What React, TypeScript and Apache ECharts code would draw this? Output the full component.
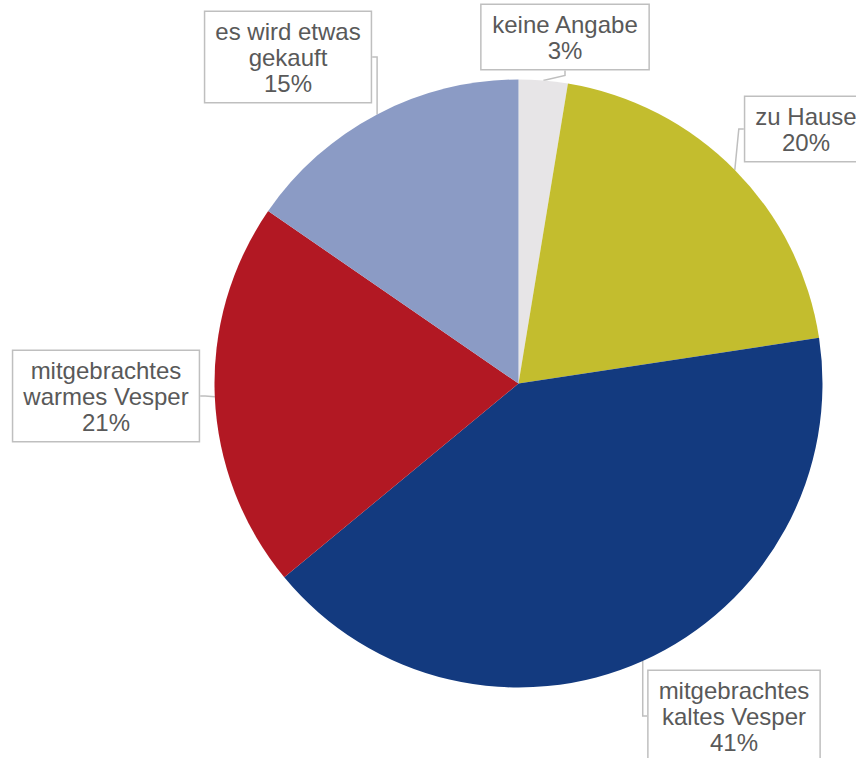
import React, { useEffect, useRef } from "react";
import * as echarts from "echarts";

const categories = [
  "keine Angabe",
  "zu Hause",
  "mitgebrachtes\nkaltes Vesper",
  "mitgebrachtes\nwarmes Vesper",
  "es wird etwas\ngekauft",
];
const values = [2.6, 20.0, 41.4, 20.6, 15.4];
const colors = ["#e7e5e7", "#c3bd2e", "#133a7f", "#b21823", "#8b9bc5"];
const labelCenters = [
  [565, 37],
  [806, 129],
  [734, 716],
  [106, 396],
  [288, 57],
];

export default function App() {
  const ref = useRef<HTMLDivElement>(null);
  useEffect(() => {
    document.body.style.margin = "0";
    const chart = echarts.init(ref.current!, undefined, { renderer: "svg" });
    chart.setOption({
      animation: false,
      backgroundColor: "#ffffff",
      series: [
        {
          type: "pie",
          center: [518.5, 383.5],
          radius: 304,
          startAngle: 90,
          clockwise: true,
          percentPrecision: 0,
          avoidLabelOverlap: false,
          data: categories.map((c, i) => ({
            name: c,
            value: values[i],
            itemStyle: { color: colors[i] },
          })),
          label: {
            show: true,
            position: "outside",
            formatter: "{b}\n{d}%",
            fontFamily: "Liberation Sans, Arial, sans-serif",
            fontSize: 24,
            lineHeight: 26,
            color: "#595959",
            align: "center",
            overflow: "none",
            backgroundColor: "#ffffff",
            borderColor: "#bfbfbf",
            borderWidth: 1.5,
            padding: [6, 10],
          },
          labelLine: {
            show: true,
            length: 5,
            length2: 5,
            lineStyle: { color: "#bfbfbf", width: 1.5 },
          },
          labelLayout: (params: any) => {
            const p = labelCenters[params.dataIndex];
            return {
              x: p[0],
              y: p[1],
              align: "center",
              verticalAlign: "middle",
            };
          },
          emphasis: { disabled: true },
        },
      ],
    });
    return () => chart.dispose();
  }, []);
  return <div ref={ref} style={{ width: 856, height: 758 }} />;
}
